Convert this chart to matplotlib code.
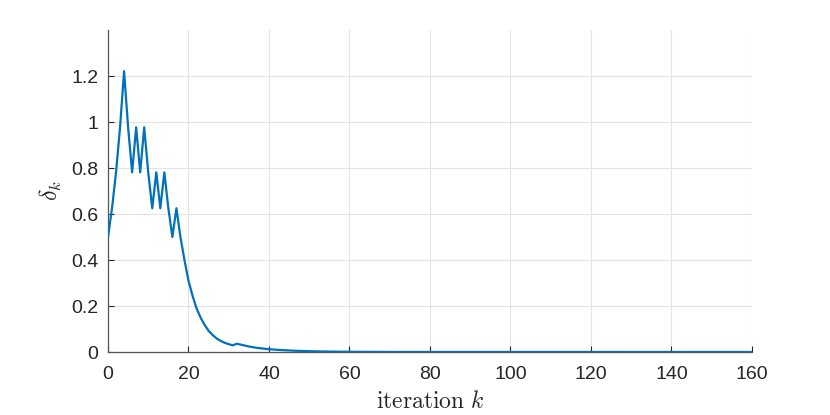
import matplotlib
matplotlib.use("Agg")
import matplotlib.pyplot as plt

iterations = list(range(161))
delta_head = [0.500, 0.625, 0.781, 0.977, 1.221, 0.977, 0.781, 0.977, 0.781, 0.977,
              0.781, 0.625, 0.781, 0.625, 0.781, 0.625, 0.500, 0.625, 0.500, 0.400,
              0.310, 0.245, 0.190, 0.150, 0.118, 0.092, 0.074, 0.059, 0.048, 0.040,
              0.034, 0.029, 0.036, 0.032, 0.028, 0.024, 0.021, 0.018, 0.016, 0.014,
              0.012, 0.011, 0.0095, 0.0085, 0.0075, 0.0065, 0.0058, 0.0050, 0.0045, 0.0040,
              0.0035, 0.0030, 0.0027, 0.0024, 0.0021, 0.0018, 0.0016, 0.0014, 0.0012, 0.0010,
              0.0009]
delta_tail = [0.0008, 0.0007, 0.0006, 0.0005, 0.0005, 0.0004, 0.0004, 0.0003, 0.0003, 0.0003,
              0.0002, 0.0002, 0.0002, 0.0002, 0.0001, 0.0001, 0.0001, 0.0001, 0.0001, 0.0001,
              0.0001, 0.0001, 0.0001, 0.0, 0.0, 0.0, 0.0, 0.0, 0.0, 0.0,
              0.0, 0.0, 0.0, 0.0, 0.0, 0.0, 0.0, 0.0, 0.0, 0.0,
              0.0, 0.0, 0.0, 0.0, 0.0, 0.0, 0.0, 0.0, 0.0, 0.0,
              0.0, 0.0, 0.0, 0.0, 0.0, 0.0, 0.0, 0.0, 0.0, 0.0,
              0.0, 0.0, 0.0, 0.0, 0.0, 0.0, 0.0, 0.0, 0.0, 0.0,
              0.0, 0.0, 0.0, 0.0, 0.0, 0.0, 0.0, 0.0, 0.0, 0.0,
              0.0, 0.0, 0.0, 0.0, 0.0, 0.0, 0.0, 0.0, 0.0, 0.0,
              0.0, 0.0, 0.0, 0.0, 0.0, 0.0, 0.0, 0.0, 0.0, 0.0]
delta = delta_head + delta_tail

x_ticks = [0, 20, 40, 60, 80, 100, 120, 140, 160]
y_ticks = [0, 0.2, 0.4, 0.6, 0.8, 1.0, 1.2]
y_tick_labels = ["0", "0.2", "0.4", "0.6", "0.8", "1", "1.2"]

plt.rcParams['mathtext.fontset'] = 'cm'
plt.rcParams['font.family'] = ['Liberation Sans', 'DejaVu Sans']

fig = plt.figure(figsize=(8.3, 4.15), dpi=100)
ax = fig.add_axes([0.1301, 0.1518, 0.7759, 0.7759])

ax.plot(iterations[:len(delta)], delta, color='#0072BD', linewidth=1.6, zorder=3)

ax.set_xlim(0, 160)
ax.set_ylim(0, 1.4)
ax.set_xticks(x_ticks)
ax.set_xticklabels([str(t) for t in x_ticks])
ax.set_yticks(y_ticks)
ax.set_yticklabels(y_tick_labels)

ax.grid(True, color='#e3e3e3', linewidth=0.8, zorder=0)
ax.set_axisbelow(True)
for s in ['top', 'right']:
    ax.spines[s].set_visible(False)
for s in ['left', 'bottom']:
    ax.spines[s].set_color('#555555')
    ax.spines[s].set_linewidth(0.9)
ax.tick_params(direction='in', length=4, width=0.8, color='#262626',
               labelsize=14, labelcolor='#262626')
ax.tick_params(axis='x', pad=10)
ax.tick_params(axis='y', pad=7)

ax.set_xlabel(r"$\mathrm{iteration}\ k$", fontsize=17, color='#262626', labelpad=6)
ax.set_ylabel(r"$\delta_k$", fontsize=17, color='#262626', labelpad=5)

fig.savefig("out.png", dpi=100)
